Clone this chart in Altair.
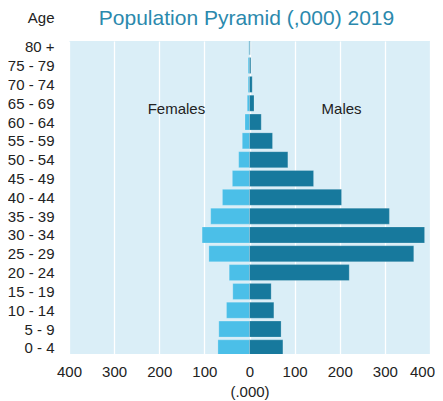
import altair as alt
import pandas as pd

ages = ["80 +", "75 - 79", "70 - 74", "65 - 69", "60 - 64", "55 - 59", "50 - 54",
        "45 - 49", "40 - 44", "35 - 39", "30 - 34", "25 - 29", "20 - 24",
        "15 - 19", "10 - 14", "5 - 9", "0 - 4"]
females = [1.5, 3, 3, 5, 10, 16, 24, 38, 60, 86, 105, 90, 45, 37, 51, 68, 70]
males = [1.5, 3, 6, 10, 26, 51, 85, 142, 204, 310, 388, 364, 221, 48, 54, 70, 74]

sexes = ["Females", "Males"]
colors = ["#4bbfe8", "#17799d"]
x_ticks = [-400, -300, -200, -100, 0, 100, 200, 300, 400]

rows = []
for i, (a, f, m) in enumerate(zip(ages, females, males)):
    rows.append({"idx": i, "Age": a, "Sex": "Females", "value": -f, "zero": 0})
    rows.append({"idx": i, "Age": a, "Sex": "Males", "value": m, "zero": 0})
df = pd.DataFrame(rows)

labels = pd.DataFrame({"idx": [3.32, 3.32], "value": [-162, 204], "text": sexes})

FONT = "Liberation Sans"
age_array = "[" + ",".join('"%s"' % a for a in ages) + "]"

y_scale = alt.Scale(domain=[-0.04, 16.06], reverse=True, nice=False, zero=False)
x_scale = alt.Scale(domain=[-400, 400], nice=False)

y_axis = alt.Axis(values=list(range(len(ages))), tickCount=len(ages),
                  labelExpr=age_array + "[datum.value]",
                  title="Age", titleAngle=0, titleAlign="right", titleBaseline="alphabetic",
                  titleX=-15, titleY=-19, titleFontWeight="normal", titleFontSize=15,
                  titleFont=FONT, titleColor="#222222",
                  labelFont=FONT, labelFontSize=15, labelColor="#222222",
                  labelPadding=15, ticks=False, domain=False, grid=False,
                  labelOverlap=False, labelBound=False, labelFlush=False,
                  labelSeparation=0)

x_axis = alt.Axis(values=x_ticks, labelExpr="abs(datum.value)", title="(.000)",
                  titleFont=FONT, titleFontSize=15, titleFontWeight="normal",
                  titleColor="#222222", titlePadding=5,
                  labelFont=FONT, labelFontSize=15, labelColor="#222222",
                  labelPadding=10, ticks=False, domain=False, labelFlush=False,
                  labelOverlap=False,
                  labelOffset={"condition": {"test": "datum.value === 400", "value": -8},
                               "value": 0},
                  grid=True, gridColor="white", gridWidth=1.3)

bars = alt.Chart(df).mark_bar(orient="horizontal", size=16, clip=True,
                              stroke="white", strokeOpacity=0.2, strokeWidth=1).encode(
    x=alt.X("value:Q", scale=x_scale, axis=x_axis),
    x2=alt.X2("zero:Q"),
    y=alt.Y("idx:Q", scale=y_scale, axis=y_axis),
    color=alt.Color("Sex:N", scale=alt.Scale(domain=sexes, range=colors), legend=None),
)

txt = alt.Chart(labels).mark_text(font=FONT, fontSize=15, color="#222222",
                                  baseline="middle").encode(
    x=alt.X("value:Q", scale=x_scale, axis=x_axis),
    y=alt.Y("idx:Q", scale=y_scale, axis=y_axis),
    text="text:N",
)

chart = alt.layer(bars, txt).properties(
    width=361, height=313,
    autosize=alt.AutoSizeParams(type="none"),
    padding={"left": 61, "top": 33, "right": 5, "bottom": 47},
    title=alt.TitleParams("Population Pyramid (,000) 2019", font=FONT, fontSize=21,
                          fontWeight="normal", color="#2b89ad", anchor="middle",
                          baseline="alphabetic", offset=0, dy=36, dx=-3),
).configure_view(fill="#daeef7", stroke=None).configure_axisY(labelOverlap=False)

chart.save("out.html", embed_options={"renderer": "svg", "actions": False})
